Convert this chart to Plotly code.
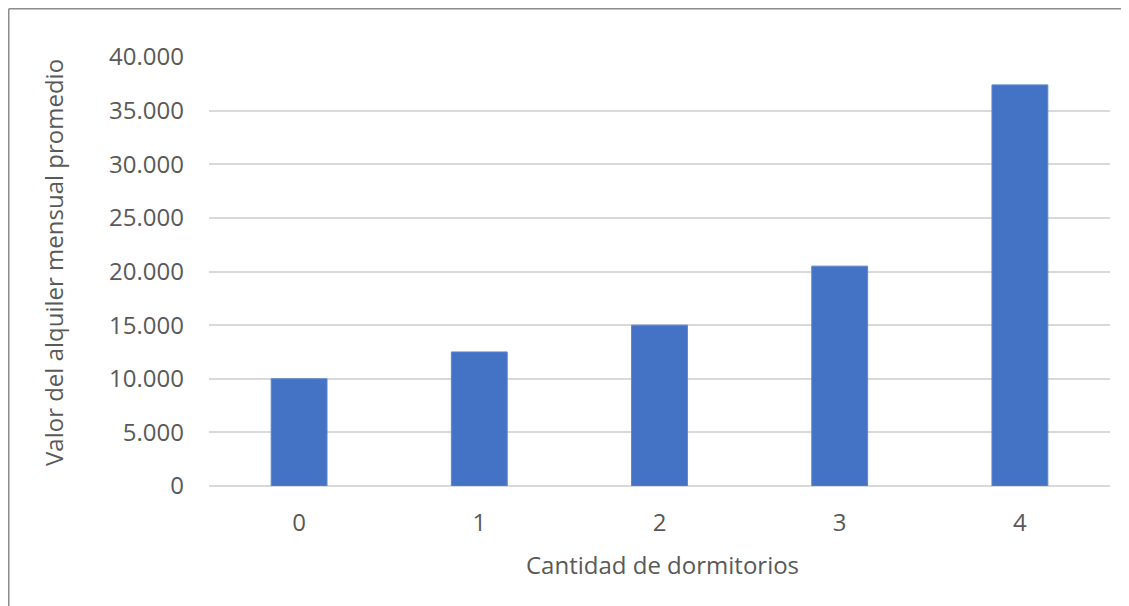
import plotly.graph_objects as go

categories = ["0", "1", "2", "3", "4"]
values = [10000, 12500, 15000, 20500, 37400]
y_ticks = [0, 5000, 10000, 15000, 20000, 25000, 30000, 35000, 40000]
y_tick_labels = ["0", "5.000", "10.000", "15.000", "20.000", "25.000", "30.000", "35.000", "40.000"]
x_title = "Cantidad de dormitorios"
y_title = "Valor del alquiler mensual promedio"

# page body has an 8px margin; figure is sized to fit inside the window
OFF = 8
W, H = 1129 - OFF, 606 - OFF
L, R, T, B = 201, 19, 49, 120
pw, ph = W - L - R, H - T - B

def px(x):
    return (x - OFF - L) / pw

def py(y):
    return (H - B - (y - OFF)) / ph

FONT = "Open Sans"
GRAY = "#595959"
FS = 24

fig = go.Figure(go.Bar(
    x=categories, y=values,
    marker=dict(color="#4472C4", line=dict(color="#5B86D0", width=1)),
    width=0.31,
))

fig.update_layout(
    width=W, height=H,
    margin=dict(l=L, r=R, t=T, b=B, autoexpand=False),
    paper_bgcolor="white", plot_bgcolor="white",
    showlegend=False,
    font=dict(family=FONT, size=FS, color=GRAY),
    xaxis=dict(
        type="category", showgrid=False, zeroline=False,
        showline=False, ticks="", ticklabelstandoff=20,
        tickfont=dict(family=FONT, size=FS, color=GRAY),
        automargin=False,
    ),
    yaxis=dict(
        range=[0, 40000], tickvals=y_ticks, ticktext=y_tick_labels,
        showgrid=True, gridcolor="#D9D9D9", gridwidth=1.5,
        zeroline=True, zerolinecolor="#D9D9D9", zerolinewidth=1.5,
        showline=False, ticks="", ticklabelstandoff=24,
        tickfont=dict(family=FONT, size=FS, color=GRAY),
        automargin=False,
    ),
    annotations=[
        dict(text=x_title, xref="paper", yref="paper",
             x=px(662), y=py(564), xanchor="center", yanchor="middle",
             showarrow=False, font=dict(family=FONT, size=FS, color=GRAY)),
        dict(text=y_title, xref="paper", yref="paper", textangle=-90,
             x=px(54), y=py(263), xanchor="center", yanchor="middle",
             showarrow=False, font=dict(family=FONT, size=FS, color=GRAY)),
    ],
    shapes=[
        dict(type="line", xref="paper", yref="paper",
             x0=px(OFF + 0.75), x1=px(1140), y0=py(OFF + 0.75), y1=py(OFF + 0.75),
             line=dict(color="#8C8C8C", width=1.5)),
        dict(type="line", xref="paper", yref="paper",
             x0=px(OFF + 0.75), x1=px(OFF + 0.75), y0=py(OFF + 0.75), y1=py(620),
             line=dict(color="#8C8C8C", width=1.5)),
    ],
)

fig.write_html("out.html")
